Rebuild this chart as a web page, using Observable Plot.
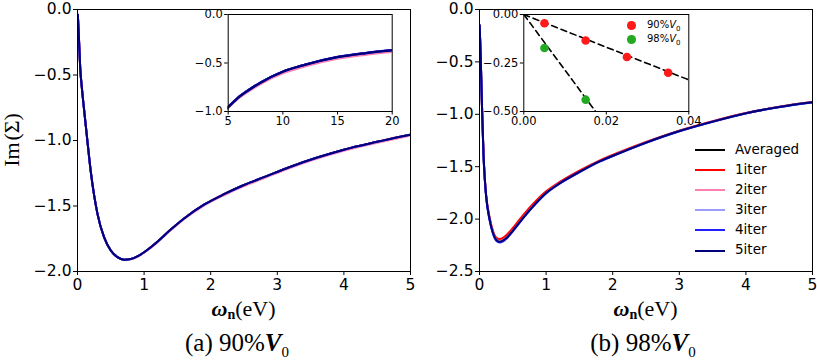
<!DOCTYPE html>
<html>
<head>
<meta charset="utf-8">
<script src="https://cdn.jsdelivr.net/npm/d3@7"></script>
<script src="https://cdn.jsdelivr.net/npm/@observablehq/plot@0.6"></script>
<style>
  html, body { margin: 0; padding: 0; background: white; }
  #fig { position: relative; width: 817px; height: 363px; background: white; overflow: hidden; }
  .serif { font-family: "Liberation Serif", "DejaVu Serif", serif; color: black; line-height: 1; white-space: nowrap; }
  .sans { font-family: "DejaVu Sans", sans-serif; color: black; line-height: 1; white-space: nowrap; }
</style>
</head>
<body>
<div id="fig"></div>
<script>
// ---------------- DATA ----------------
// Panel (a) 90% V0 : omega_n (eV) grid and Im(Sigma) per series
const leftOmega    = [0.005,0.02,0.04,0.07,0.1,0.15,0.2,0.3,0.4,0.5,0.6,0.7,0.8,0.9,1.0,1.1,1.2,1.4,1.6,1.9,2.2,2.5,2.8,3.2,3.6,4.0,4.5,5.0,6,7,8,10,12,15,17.5,20];
const leftAveraged = [-0.04,-0.2,-0.44,-0.62,-0.77,-1.01,-1.24,-1.56,-1.74,-1.84,-1.89,-1.91,-1.905,-1.885,-1.853,-1.815,-1.773,-1.68,-1.595,-1.49,-1.41,-1.34,-1.28,-1.20,-1.13,-1.07,-1.01,-0.955,-0.85,-0.77,-0.70,-0.59,-0.52,-0.44,-0.40,-0.37];
const left1iter    = [-0.04,-0.2,-0.44,-0.62,-0.77,-1.01,-1.24,-1.56,-1.74,-1.84,-1.89,-1.91,-1.905,-1.885,-1.853,-1.815,-1.773,-1.68,-1.595,-1.49,-1.41,-1.34,-1.28,-1.20,-1.13,-1.07,-1.01,-0.955,-0.85,-0.77,-0.70,-0.59,-0.52,-0.44,-0.40,-0.37];
const left2iter    = [-0.04,-0.2,-0.44,-0.62,-0.77,-1.01,-1.24,-1.56,-1.74,-1.84,-1.89,-1.91,-1.907,-1.888,-1.857,-1.82,-1.778,-1.686,-1.601,-1.497,-1.418,-1.348,-1.288,-1.208,-1.138,-1.078,-1.018,-0.962,-0.86,-0.782,-0.713,-0.605,-0.535,-0.455,-0.415,-0.385];
const left3iter    = [-0.04,-0.2,-0.44,-0.62,-0.77,-1.01,-1.24,-1.56,-1.74,-1.84,-1.89,-1.91,-1.905,-1.885,-1.853,-1.815,-1.773,-1.68,-1.595,-1.49,-1.41,-1.34,-1.28,-1.20,-1.13,-1.07,-1.01,-0.955,-0.85,-0.77,-0.70,-0.59,-0.52,-0.44,-0.40,-0.37];
const left4iter    = [-0.04,-0.2,-0.44,-0.62,-0.77,-1.01,-1.24,-1.56,-1.74,-1.84,-1.89,-1.91,-1.905,-1.885,-1.853,-1.815,-1.773,-1.68,-1.595,-1.49,-1.41,-1.34,-1.28,-1.20,-1.13,-1.07,-1.01,-0.955,-0.848,-0.768,-0.698,-0.588,-0.518,-0.438,-0.398,-0.368];
const left5iter    = [-0.04,-0.2,-0.44,-0.62,-0.77,-1.01,-1.24,-1.56,-1.74,-1.84,-1.89,-1.91,-1.905,-1.885,-1.853,-1.815,-1.773,-1.68,-1.595,-1.49,-1.41,-1.34,-1.28,-1.20,-1.13,-1.07,-1.01,-0.955,-0.85,-0.77,-0.70,-0.59,-0.52,-0.44,-0.40,-0.37];

// Panel (b) 98% V0
const rightOmega    = [0.002,0.01,0.02,0.03,0.04,0.06,0.08,0.1,0.15,0.2,0.25,0.3,0.35,0.4,0.5,0.6,0.8,1.0,1.2,1.5,1.8,2.1,2.5,3.0,3.5,4.0,4.5,5.0];
const rightAveraged = [-0.15,-0.3,-0.5,-0.75,-0.98,-1.38,-1.62,-1.78,-1.99,-2.12,-2.19,-2.21,-2.20,-2.18,-2.11,-2.03,-1.88,-1.75,-1.66,-1.55,-1.45,-1.37,-1.27,-1.16,-1.07,-0.99,-0.93,-0.885];
const right1iter    = [-0.15,-0.3,-0.5,-0.75,-0.98,-1.375,-1.61,-1.77,-1.98,-2.11,-2.175,-2.19,-2.18,-2.155,-2.085,-2.005,-1.858,-1.735,-1.648,-1.538,-1.442,-1.362,-1.264,-1.156,-1.066,-0.988,-0.928,-0.883];
const right2iter    = [-0.15,-0.3,-0.5,-0.75,-0.98,-1.38,-1.62,-1.78,-1.99,-2.12,-2.19,-2.21,-2.20,-2.18,-2.11,-2.03,-1.88,-1.75,-1.66,-1.55,-1.45,-1.37,-1.27,-1.16,-1.07,-0.99,-0.93,-0.885];
const right3iter    = [-0.15,-0.3,-0.5,-0.75,-0.98,-1.39,-1.63,-1.79,-2.005,-2.135,-2.205,-2.225,-2.215,-2.19,-2.118,-2.037,-1.886,-1.756,-1.664,-1.554,-1.454,-1.373,-1.273,-1.163,-1.072,-0.992,-0.932,-0.887];
const right4iter    = [-0.15,-0.3,-0.5,-0.75,-0.98,-1.39,-1.63,-1.79,-2.005,-2.135,-2.205,-2.222,-2.212,-2.188,-2.116,-2.035,-1.884,-1.754,-1.662,-1.552,-1.452,-1.372,-1.272,-1.162,-1.071,-0.991,-0.931,-0.886];
const right5iter    = [-0.15,-0.3,-0.5,-0.75,-0.98,-1.38,-1.62,-1.78,-1.995,-2.125,-2.195,-2.215,-2.205,-2.183,-2.112,-2.032,-1.881,-1.751,-1.66,-1.55,-1.45,-1.37,-1.27,-1.16,-1.07,-0.99,-0.93,-0.885];

// Inset (b): low-frequency points and linear fits
const pts90x = [0.005, 0.015, 0.025, 0.035];
const pts90y = [-0.045, -0.134, -0.219, -0.300];
const pts98x = [0.005, 0.015];
const pts98y = [-0.173, -0.439];
const fit90x = [0, 0.04];
const fit90y = [0, -0.337];
const fit98x = [0, 0.0174];
const fit98y = [0, -0.5];

// Tick labels
const mainXTicks = [0, 1, 2, 3, 4, 5];
const leftYTicks = [0, -0.5, -1.0, -1.5, -2.0];
const rightYTicks = [0, -0.5, -1.0, -1.5, -2.0, -2.5];
const insetAXTicks = [5, 10, 15, 20];
const insetAYTicks = [0, -0.5, -1.0];
const insetBXTicks = [0, 0.02, 0.04];
const insetBYTicks = [0, -0.25, -0.5];

const seriesNames = ["Averaged", "1iter", "2iter", "3iter", "4iter", "5iter"];
const insetNames = ["90%", "98%"];

// ---------------- STYLE ----------------
const colors = {Averaged: "#000000", "1iter": "#ff0000", "2iter": "#ff80b0", "3iter": "#9c9cff", "4iter": "#1f1fff", "5iter": "#00007a"};
const ptColors = {"90%": "#ff1a1a", "98%": "#22aa22"};

const toRows = (xs, ys) => xs.map((x, i) => ({x, y: ys[i]}));
const leftSeries = [leftAveraged, left1iter, left2iter, left3iter, left4iter, left5iter];
const rightSeries = [rightAveraged, right1iter, right2iter, right3iter, right4iter, right5iter];

const fig = document.getElementById("fig");
function place(el, left, top) {
  el.style.position = "absolute";
  el.style.left = left + "px";
  el.style.top = top + "px";
  fig.appendChild(el);
  return el;
}

function lineMarks(omega, series, w) {
  return series.map((ys, i) => Plot.line(toRows(omega, ys), {
    x: "x", y: "y", stroke: colors[seriesNames[i]], strokeWidth: w, curve: "monotone-x", clip: true
  }));
}

const baseStyle = (fs) => ({fontFamily: "DejaVu Sans", fontSize: fs + "px", background: "transparent", color: "black", overflow: "visible"});

// Main panel (a)
place(Plot.plot({
  width: 420, height: 300,
  marginLeft: 77, marginRight: 10, marginTop: 9, marginBottom: 29,
  style: baseStyle(15.5),
  x: {domain: [0, 5], ticks: mainXTicks, tickFormat: d3.format("d"), tickSize: 4, tickPadding: 3, label: null},
  y: {domain: [-2, 0], ticks: leftYTicks, tickFormat: d3.format(".1f"), tickSize: 4, tickPadding: 2, label: null},
  marks: [...lineMarks(leftOmega, leftSeries, 2), Plot.frame({stroke: "black", strokeWidth: 1})]
}), 0, 0);

// Main panel (b)
place(Plot.plot({
  width: 420, height: 300,
  marginLeft: 77, marginRight: 10, marginTop: 9, marginBottom: 29,
  style: baseStyle(15.5),
  x: {domain: [0, 5], ticks: mainXTicks, tickFormat: d3.format("d"), tickSize: 4, tickPadding: 3, label: null},
  y: {domain: [-2.5, 0], ticks: rightYTicks, tickFormat: d3.format(".1f"), tickSize: 4, tickPadding: 2, label: null},
  marks: [...lineMarks(rightOmega, rightSeries, 2), Plot.frame({stroke: "black", strokeWidth: 1})]
}), 402, 0);

// Inset (a)
place(Plot.plot({
  width: 215, height: 130,
  marginLeft: 47.7, marginRight: 3.3, marginTop: 14, marginBottom: 19,
  style: baseStyle(11.5),
  x: {domain: [5, 20], ticks: insetAXTicks, tickFormat: d3.format("d"), tickSize: 3.5, tickPadding: 2, label: null},
  y: {domain: [-1, 0], ticks: insetAYTicks, tickFormat: d3.format(".1f"), tickSize: 3.5, tickPadding: 2, label: null},
  marks: [
    Plot.frame({fill: "white", stroke: "none"}),
    ...lineMarks(leftOmega, leftSeries, 2.3),
    Plot.frame({stroke: "black", strokeWidth: 1})
  ]
}), 180, 0);

// Inset (b)
place(Plot.plot({
  width: 225, height: 130,
  marginLeft: 53.3, marginRight: 6.7, marginTop: 14, marginBottom: 19,
  style: baseStyle(11.5),
  x: {domain: [0, 0.04], ticks: insetBXTicks, tickFormat: d3.format(".2f"), tickSize: 3.5, tickPadding: 2, label: null},
  y: {domain: [-0.5, 0], ticks: insetBYTicks, tickFormat: d3.format(".2f"), tickSize: 3.5, tickPadding: 2, label: null},
  marks: [
    Plot.frame({fill: "white", stroke: "none"}),
    Plot.line(toRows(fit90x, fit90y), {x: "x", y: "y", stroke: "black", strokeWidth: 1.6, strokeDasharray: "6,4", clip: true}),
    Plot.line(toRows(fit98x, fit98y), {x: "x", y: "y", stroke: "black", strokeWidth: 1.6, strokeDasharray: "6,4", clip: true}),
    Plot.dot(toRows(pts90x, pts90y), {x: "x", y: "y", r: 4.3, fill: ptColors["90%"], stroke: "none"}),
    Plot.dot(toRows(pts98x, pts98y), {x: "x", y: "y", r: 4.3, fill: ptColors["98%"], stroke: "none"}),
    Plot.frame({stroke: "black", strokeWidth: 1})
  ]
}), 470, 0);

// Inset (b) legend
insetNames.forEach((name, i) => {
  const dot = document.createElement("div");
  dot.style.cssText = `width:8.6px;height:8.6px;border-radius:50%;background:${ptColors[name]};`;
  place(dot, 627.4, 21 + i * 14);
  const t = document.createElement("div");
  t.className = "sans";
  t.style.fontSize = "10px";
  t.innerHTML = `${name}<i>V</i><sub style="font-size:7px">0</sub>`;
  place(t, 647, 19.5 + i * 14);
});

// Main legend
seriesNames.forEach((name, i) => {
  const y = 150 + i * 20.1;
  const ln = document.createElement("div");
  ln.style.cssText = `width:30px;height:0;border-top:2px solid ${colors[name]};`;
  place(ln, 695, y - 1);
  const t = document.createElement("div");
  t.className = "sans";
  t.style.fontSize = "13.5px";
  t.textContent = name;
  place(t, 735, y - 7.5);
});

// Y label
const yl = document.createElement("div");
yl.className = "serif";
yl.style.fontSize = "22px";
yl.style.transform = "translate(-50%,-50%) rotate(-90deg)";
yl.innerHTML = "Im&#8202;(Σ)";
place(yl, 12, 140);

// X labels and captions
[243.5, 645.5].forEach((cx) => {
  const xl = document.createElement("div");
  xl.className = "serif";
  xl.style.fontSize = "22px";
  xl.style.transform = "translateX(-50%)";
  xl.innerHTML = `<b><i>ω</i><sub style="font-size:14px;vertical-align:-3px">n</sub></b>(eV)`;
  place(xl, cx, 298);
});
const captions = [[237, "(a) 90%"], [643, "(b) 98%"]];
captions.forEach(([cx, txt]) => {
  const c = document.createElement("div");
  c.className = "serif";
  c.style.fontSize = "25px";
  c.style.transform = "translateX(-50%)";
  c.innerHTML = `${txt}<b><i>V</i></b><sub style="font-size:15px;vertical-align:-6px">0</sub>`;
  place(c, cx, 330);
});
</script>
</body>
</html>
